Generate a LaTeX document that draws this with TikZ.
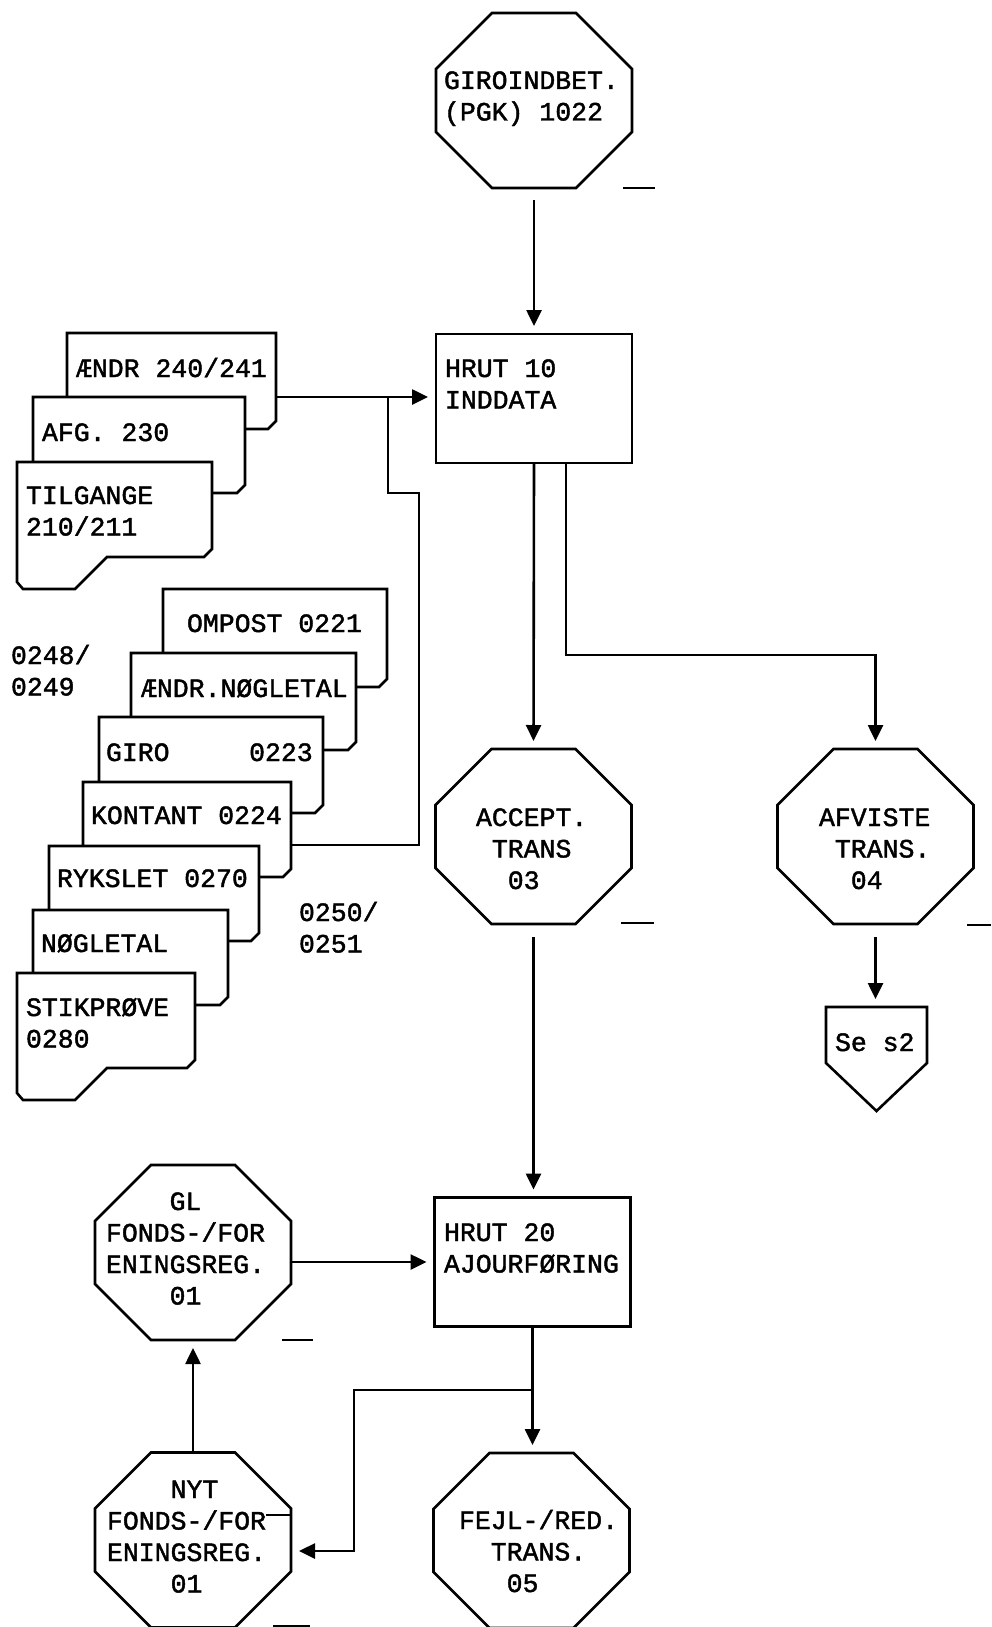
\documentclass[tikz,border=0pt]{standalone}
\usepackage{fontspec}
\usetikzlibrary{arrows.meta}
\newfontfamily\plotfont{Liberation Mono}[FakeBold=1.6]
\newcommand{\plotfnt}{\plotfont\fontsize{26.5pt}{31.5pt}\selectfont}

% octagon round an invisible node
\newcommand{\octframe}[1]{%
  \draw ([xshift=56pt]#1.north west) -- ([xshift=-56pt]#1.north east)
    -- ([yshift=-56pt]#1.north east) -- ([yshift=56pt]#1.south east)
    -- ([xshift=-56pt]#1.south east) -- ([xshift=56pt]#1.south west)
    -- ([yshift=56pt]#1.south west) -- ([yshift=-56pt]#1.north west) -- cycle;}

% punched card, lower right corner cut
\newcommand{\card}[4]{%
  \filldraw[fill=white] (#1,#2) -- (#3,#2) -- (#3,#4-8) -- (#3-8,#4) -- (#1,#4) -- cycle;}
% front card with the notched bottom
\newcommand{\tabcard}[4]{%
  \filldraw[fill=white] (#1,#2) -- (#3,#2) -- (#3,#4-8) -- (#3-8,#4) -- (#1+90,#4)
    -- (#1+58,#4+32) -- (#1+6,#4+32) -- (#1,#4+25) -- cycle;}

\begin{document}
\begin{tikzpicture}[x=1pt, y=-1pt, line width=2.6pt,
  >={Triangle[length=16pt,width=15pt]},
  every node/.style={inner sep=0pt, outer sep=0pt},
  txt/.style={font=\plotfnt, anchor=base west, align=left},
  octa/.style={minimum width=196pt, minimum height=175pt},
  box/.style={draw, minimum width=196pt, minimum height=129pt},
  flow/.style={->, shorten >=8pt},
  underbar/.style={line width=2.2pt}]

\useasboundingbox (0,0) rectangle (991,1627);

% Main column (text nodes sit on the baseline of their last line)
\node[octa] (giro) at (534,100.5) {};
\octframe{giro}
\node[txt] (t-giro) at (444,120.5) {GIROINDBET.\\(PGK) 1022};

\node[box] (hrut10) at (534,398.5) {};
\node[txt] (t-hrut10) at (445,408.5) {HRUT 10\\INDDATA};

\node[octa] (acc) at (533.5,836.5) {};
\octframe{acc}
\node[txt] (t-acc) at (476,889) {ACCEPT.\\\hphantom{0}TRANS\\\hphantom{00}03};

\node[octa] (afv) at (875.5,836.5) {};
\octframe{afv}
\node[txt] (t-afv) at (819,889) {AFVISTE\\\hphantom{0}TRANS.\\\hphantom{00}04};

\node[minimum width=101pt, minimum height=56pt] (se) at (876.5,1035) {};
\draw (se.north west) -- (se.north east) -- (se.south east) -- ([yshift=-48pt]se.south) -- (se.south west) -- cycle;
\node[txt] (t-se) at (835,1051) {Se s2};

\node[box] (hrut20) at (532.5,1262) {};
\node[txt] (t-hrut20) at (444,1272.5) {HRUT 20\\AJOURFØRING};

% Registers
\node[octa] (gl) at (193,1252.5) {};
\octframe{gl}
\node[txt] (t-gl) at (106,1304.5) {\hphantom{0000}GL\\FONDS-/FOR\\ENINGSREG.\\\hphantom{0000}01};

\node[octa] (nyt) at (193,1540) {};
\octframe{nyt}
\node[txt] (t-nyt) at (107,1592.5) {\hphantom{0000}NYT\\FONDS-/FOR\\ENINGSREG.\\\hphantom{0000}01};
\draw (266,1515) -- (nyt.east |- 0,1515);

\node[octa] (fejl) at (531.5,1540.5) {};
\octframe{fejl}
\node[txt] (t-fejl) at (459,1592) {FEJL-/RED.\\\hphantom{00}TRANS.\\\hphantom{000}05};

% Upper deck of cards
\card{67}{333}{276}{429}
\node[txt] (t-aendr) at (76,377) {ÆNDR 240/241};
\card{33}{397}{245}{493}
\node[txt] (t-afg) at (42,441) {AFG. 230};
\tabcard{17}{462}{212}{557}
\node[txt] (t-tilg) at (26,535.5) {TILGANGE\\210/211};

% Lower deck of cards
\card{163}{589}{387}{687}
\node[txt] (t-ompost) at (187,632) {OMPOST 0221};
\card{131}{653}{356}{750}
\node[txt] (t-aendrn) at (141,697) {ÆNDR.NØGLETAL};
\card{99}{717}{323}{813}
\node[txt] (t-girok) at (106,761) {GIRO\ \ \ \ \ 0223};
\card{83}{782}{291}{877}
\node[txt] (t-kont) at (91,824) {KONTANT 0224};
\card{49}{846}{259}{941}
\node[txt] (t-ryk) at (57,887) {RYKSLET 0270};
\card{33}{910}{228}{1005}
\node[txt] (t-nogle) at (41,952) {NØGLETAL};
\tabcard{17}{973}{195}{1068}
\node[txt] (t-stik) at (26,1047.5) {STIKPRØVE\\0280};

\node[txt] (n-0248) at (11,695.5) {0248/\\0249};
\node[txt] (n-0250) at (299,952.5) {0250/\\0251};

% Connectors
\coordinate (aendr-out) at (276,397);
\coordinate (kont-out) at (291,845);
\draw[flow] (aendr-out) -- (hrut10.west |- aendr-out);
\draw (kont-out) -- (419,845) -- (419,493) -- (388,493) -- (388,0 |- aendr-out);

\draw[flow, shorten <=12pt] (giro.south) -- (hrut10.north);
\draw[flow] (hrut10.south) -- (acc.north);
\draw[flow] ([xshift=32pt]hrut10.south) -- ([xshift=32pt]hrut10.south |- 0,655) -| (afv.north);
\draw[flow, shorten <=13pt] (acc.south) -- (acc.south |- hrut20.north);
\draw[flow, shorten <=13pt] (afv.south) -- (afv.south |- se.north);
\draw[flow] (gl.east |- hrut20.west) -- (hrut20.west);
\draw[flow] (hrut20.south) -- (hrut20.south |- fejl.north);
\draw[flow] (hrut20.south |- 0,1390) -| (354,1551) -- (nyt.east |- 0,1551);
\draw[flow] (nyt.north) -- (gl.south);

% Stray underscores of the plot
\draw[underbar] (623,188) -- (655,188);
\draw[underbar] (621,923) -- (654,923);
\draw[underbar] (967,925) -- (991,925);
\draw[underbar] (282,1340) -- (313,1340);
\draw[underbar] (273,1626) -- (310,1626);

\end{tikzpicture}
\end{document}
